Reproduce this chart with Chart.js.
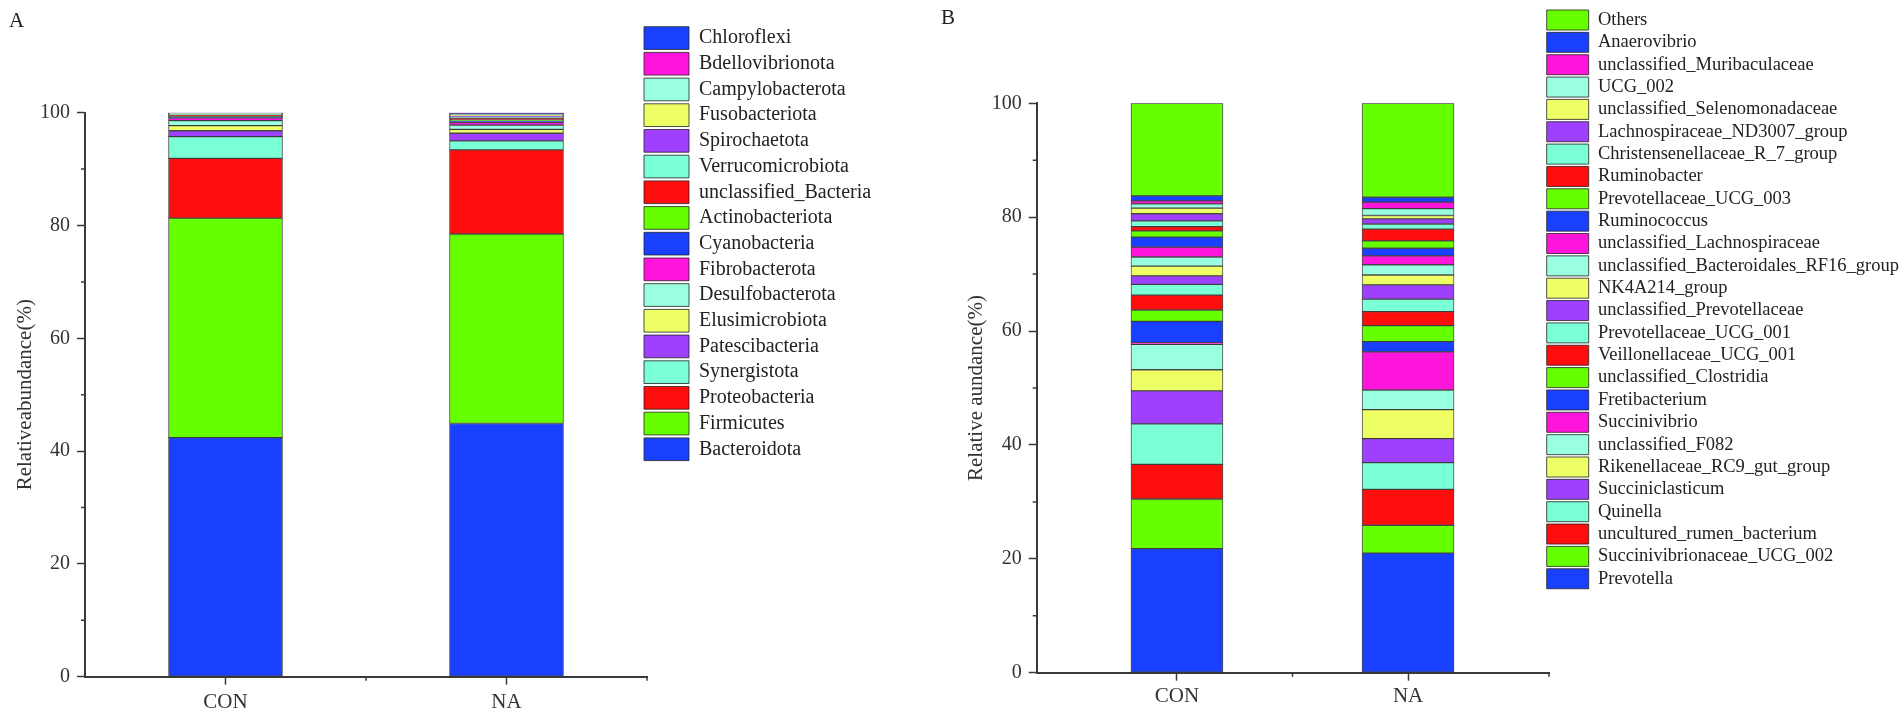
<!DOCTYPE html>
<html>
<head>
<meta charset="utf-8">
<title>Relative abundance - phylum and genus</title>
<script src="https://cdn.jsdelivr.net/npm/chart.js@4.4.1/dist/chart.umd.min.js"></script>
<style>
  html, body { margin: 0; background: #fff; }
  #wrap { position: relative; width: 1902px; height: 717px; overflow: hidden; }
  canvas { position: absolute; top: 0; }
  #chartA { left: 0; }
  #chartB { left: 951px; }
  .tag { position: absolute; font: 21px 'Liberation Serif', 'Times New Roman', serif; color: #222; }
</style>
</head>
<body>
<div id="wrap">
  <canvas id="chartA" width="951" height="717"></canvas>
  <canvas id="chartB" width="951" height="717"></canvas>
  <div class="tag" style="left:9px;top:8px">A</div>
  <div class="tag" style="left:941px;top:5px">B</div>
</div>
<script>
// groups on the x axis and where they sit on the linear x scale
const groups = ['CON', 'NA'];
const groupPos = [1, 2];
const yTickValues = [0, 20, 40, 60, 80, 100];
const yMinorValues = [10, 30, 50, 70, 90];

// Panel A: phyla, listed bottom of the stack -> top
const phylumNames = [
  'Bacteroidota', 'Firmicutes', 'Proteobacteria', 'Synergistota', 'Patescibacteria',
  'Elusimicrobiota', 'Desulfobacterota', 'Fibrobacterota', 'Cyanobacteria', 'Actinobacteriota',
  'unclassified_Bacteria', 'Verrucomicrobiota', 'Spirochaetota', 'Fusobacteriota',
  'Campylobacterota', 'Bdellovibrionota', 'Chloroflexi'
];
const phylumCON = [42.4, 38.9, 10.6, 3.85, 1.05, 0.9, 0.9, 0.5, 0.2, 0.15, 0.15, 0.1, 0.1, 0.05, 0.05, 0.05, 0.05];
const phylumNA  = [44.9, 33.6, 14.9, 1.6, 1.35, 0.7, 0.75, 0.5, 0.25, 0.2, 0.25, 0.2, 0.2, 0.15, 0.15, 0.15, 0.15];

// Panel B: genera, bottom -> top
const genusNames = [
  'Prevotella', 'Succinivibrionaceae_UCG_002', 'uncultured_rumen_bacterium', 'Quinella',
  'Succiniclasticum', 'Rikenellaceae_RC9_gut_group', 'unclassified_F082', 'Succinivibrio',
  'Fretibacterium', 'unclassified_Clostridia', 'Veillonellaceae_UCG_001', 'Prevotellaceae_UCG_001',
  'unclassified_Prevotellaceae', 'NK4A214_group', 'unclassified_Bacteroidales_RF16_group',
  'unclassified_Lachnospiraceae', 'Ruminococcus', 'Prevotellaceae_UCG_003', 'Ruminobacter',
  'Christensenellaceae_R_7_group', 'Lachnospiraceae_ND3007_group', 'unclassified_Selenomonadaceae',
  'UCG_002', 'unclassified_Muribaculaceae', 'Anaerovibrio', 'Others'
];
const genusCON = [21.8, 8.7, 6.1, 7.1, 5.8, 3.7, 4.45, 0.3, 3.75, 2.0, 2.6, 1.9, 1.5, 1.7, 1.6,
                  1.75, 1.75, 1.1, 0.75, 1.0, 1.25, 1.0, 0.75, 0.5, 0.9, 16.25];
const genusNA  = [21.0, 4.9, 6.3, 4.7, 4.2, 5.1, 3.45, 6.7, 1.8, 2.8, 2.45, 2.2, 2.5, 1.75, 1.8,
                  1.55, 1.35, 1.3, 2.05, 0.9, 0.9, 0.6, 1.2, 1.15, 0.85, 16.5];

// colour cycle used by both panels
const palette = ['#1a40ff', '#66ff00', '#ff0d0d', '#7affd6', '#a040ff', '#eeff66', '#99ffe0', '#ff14dc'];

const serif = "'Liberation Serif', 'Times New Roman', serif";
const axisColor = '#3a3a3a';
const textColor = '#333';

// move the legend to a fixed spot (it sits beside the axis end in the original)
const placeLegend = {
  id: 'placeLegend',
  afterLayout(chart, args, opts) {
    const lg = chart.legend;
    const pad = chart.options.plugins.legend.labels.padding;
    const h = lg.bottom - lg.top;
    lg.left = opts.x - pad;
    lg.right = lg.left + opts.w;   // wide enough so the long names are not clipped
    lg.top = opts.y - pad;
    lg.bottom = lg.top + h;
  }
};

// short minor ticks on both axes
const minorTicks = {
  id: 'minorTicks',
  afterDraw(chart, args, opts) {
    const { ctx, chartArea, scales: { x, y } } = chart;
    ctx.save();
    ctx.strokeStyle = opts.color;
    ctx.lineWidth = opts.width;
    ctx.beginPath();
    opts.y.forEach(v => {
      const py = y.getPixelForValue(v);
      ctx.moveTo(chartArea.left - opts.len, py);
      ctx.lineTo(chartArea.left, py);
    });
    opts.x.concat([x.max]).forEach(v => {
      const px = x.getPixelForValue(v);
      ctx.moveTo(px, chartArea.bottom);
      ctx.lineTo(px, chartArea.bottom + opts.len);
    });
    ctx.stroke();
    ctx.restore();
  }
};

function makeChart(id, names, con, na, cfg) {
  const datasets = names.map((name, i) => ({
    label: name,
    data: [con[i], na[i]],
    backgroundColor: palette[i % palette.length],
    borderColor: 'rgba(35,35,35,0.8)',
    borderWidth: 1,
    borderSkipped: false,
    barThickness: cfg.barWidth
  }));

  return new Chart(document.getElementById(id), {
    type: 'bar',
    data: { labels: groupPos, datasets },
    options: {
      responsive: false,
      animation: false,
      layout: { padding: { top: cfg.top, right: cfg.padRight, left: 0, bottom: 0 } },
      scales: {
        x: {
          type: 'linear',
          stacked: true,
          offset: false,
          min: cfg.xMin,
          max: cfg.xMax,
          afterBuildTicks: s => { s.ticks = groupPos.map(v => ({ value: v })); },
          afterFit: s => { s.height = cfg.xHeight; },
          grid: { offset: false, drawOnChartArea: false, drawTicks: true, tickLength: 8, tickColor: axisColor, tickWidth: 1.5 },
          border: { display: true, color: axisColor, width: 2 },
          ticks: {
            callback: v => groups[groupPos.indexOf(v)],
            font: { family: serif, size: 21 },
            color: textColor,
            padding: cfg.xPad,
            maxRotation: 0,
            autoSkip: false
          }
        },
        y: {
          stacked: true,
          min: 0,
          max: 100,
          afterBuildTicks: s => { s.ticks = yTickValues.map(v => ({ value: v })); },
          afterFit: s => { s.width = cfg.yWidth; },
          grid: { drawOnChartArea: false, drawTicks: true, tickLength: 8, tickColor: axisColor, tickWidth: 1.5 },
          border: { display: true, color: axisColor, width: 2 },
          ticks: { font: { family: serif, size: 20 }, color: textColor, padding: 7 },
          title: {
            display: true,
            text: cfg.yTitle,
            font: { family: serif, size: 21 },
            color: textColor,
            padding: { top: 13 }
          }
        }
      },
      plugins: {
        legend: {
          position: 'right',
          align: 'start',
          reverse: true,
          maxWidth: cfg.legendWidth,
          labels: {
            boxWidth: cfg.boxW,
            boxHeight: cfg.boxH,
            padding: cfg.legendPad,
            font: { family: serif, size: cfg.legendFont },
            color: '#222'
          }
        },
        tooltip: { enabled: false },
        placeLegend: { x: cfg.legendX, y: cfg.legendY, w: 420 },
        minorTicks: { y: yMinorValues, x: [1.5], len: 4, color: axisColor, width: 1.5 }
      }
    },
    plugins: [placeLegend, minorTicks]
  });
}

makeChart('chartA', phylumNames, phylumCON, phylumNA, {
  yTitle: 'Relativeabundance(%)',
  top: 112.7, xHeight: 40.3, yWidth: 85, padRight: 104, legendWidth: 200,
  xMin: 0.5, xMax: 2.5, barWidth: 114, xPad: 5,
  legendX: 644, legendY: 26.7, boxW: 45, boxH: 22.7, legendPad: 3, legendFont: 20
});

makeChart('chartB', genusNames, genusCON, genusNA, {
  yTitle: 'Relative aundance(%)',
  top: 103.3, xHeight: 44.3, yWidth: 85.7, padRight: 163, legendWidth: 190,
  xMin: 0.393, xMax: 2.61, barWidth: 92, xPad: 3,
  legendX: 595.7, legendY: 10, boxW: 42, boxH: 20, legendPad: 2.35, legendFont: 18.5
});
</script>
</body>
</html>
